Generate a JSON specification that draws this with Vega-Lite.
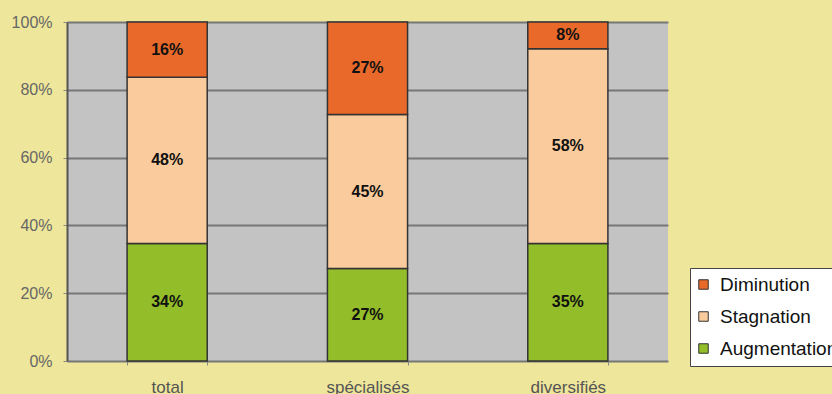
{
  "$schema": "https://vega.github.io/schema/vega-lite/v6.json",
  "width": 601,
  "height": 339,
  "autosize": "none",
  "padding": {"left": 67, "top": 22, "right": 164, "bottom": 33},
  "background": "#EEE69A",
  "config": {
    "view": {"fill": "#C3C3C3", "stroke": null},
    "font": "Liberation Sans"
  },
  "data": {
    "values": [
      {"groupe": "total", "evolution": "Augmentation", "ordre": 1, "part": 0.34},
      {"groupe": "total", "evolution": "Stagnation", "ordre": 2, "part": 0.48},
      {"groupe": "total", "evolution": "Diminution", "ordre": 3, "part": 0.16},
      {"groupe": "spécialisés", "evolution": "Augmentation", "ordre": 1, "part": 0.27},
      {"groupe": "spécialisés", "evolution": "Stagnation", "ordre": 2, "part": 0.45},
      {"groupe": "spécialisés", "evolution": "Diminution", "ordre": 3, "part": 0.27},
      {"groupe": "diversifiés", "evolution": "Augmentation", "ordre": 1, "part": 0.35},
      {"groupe": "diversifiés", "evolution": "Stagnation", "ordre": 2, "part": 0.58},
      {"groupe": "diversifiés", "evolution": "Diminution", "ordre": 3, "part": 0.08}
    ]
  },
  "transform": [
    {"stack": "part", "groupby": ["groupe"], "sort": [{"field": "ordre"}], "offset": "normalize", "as": ["bas", "haut"]},
    {"calculate": "(datum.bas + datum.haut) / 2", "as": "milieu"}
  ],
  "encoding": {
    "x": {
      "field": "groupe",
      "type": "nominal",
      "sort": ["total", "spécialisés", "diversifiés"],
      "scale": {"paddingInner": 0.6, "paddingOuter": 0.3},
      "axis": {
        "title": null,
        "labelAngle": 0,
        "labelFontSize": 17,
        "labelColor": "#555555",
        "labelPadding": 14,
        "tickBand": "extent",
        "tickSize": 4,
        "tickColor": "#888888",
        "domain": false
      }
    }
  },
  "layer": [
    {
      "mark": {"type": "bar", "stroke": "#333333", "strokeWidth": 1.5},
      "encoding": {
        "y": {
          "field": "haut",
          "type": "quantitative",
          "scale": {"domain": [0, 1]},
          "axis": {
            "title": null,
            "values": [0, 0.2, 0.4, 0.6, 0.8, 1],
            "format": ".0%",
            "labelFontSize": 16,
            "labelColor": "#666666",
            "labelPadding": 11,
            "tickSize": 4,
            "tickColor": "#888888",
            "domainColor": "#555555",
            "domainWidth": 2,
            "gridColor": "#777777",
            "gridWidth": 2
          }
        },
        "y2": {"field": "bas"},
        "color": {
          "field": "evolution",
          "type": "nominal",
          "scale": {
            "domain": ["Diminution", "Stagnation", "Augmentation"],
            "range": ["#E8692A", "#FACB9C", "#93BD29"]
          },
          "legend": {
            "title": null,
            "orient": "none",
            "legendX": 623,
            "legendY": 246,
            "fillColor": "#FFFFFF",
            "strokeColor": "#444444",
            "padding": 7,
            "symbolType": "square",
            "symbolSize": 90,
            "symbolStrokeColor": "#333333",
            "symbolStrokeWidth": 1,
            "symbolOffset": -3,
            "labelFontSize": 19,
            "labelColor": "#111111",
            "labelOffset": 7,
            "rowPadding": 12
          }
        }
      }
    },
    {
      "mark": {"type": "text", "fontWeight": "bold", "fontSize": 16, "color": "#111111"},
      "encoding": {
        "y": {"field": "milieu", "type": "quantitative"},
        "text": {"field": "part", "format": ".0%"}
      }
    }
  ]
}
